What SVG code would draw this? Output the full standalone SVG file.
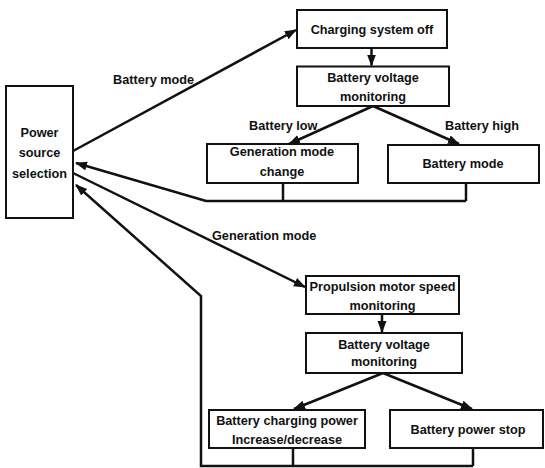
<svg xmlns="http://www.w3.org/2000/svg" width="545" height="468" viewBox="0 0 545 468">
  <style>
    .box { fill: #ffffff; stroke: #111111; stroke-width: 2; }
    .t { font-family: "Liberation Sans", Arial, sans-serif; font-size: 12.7px; font-weight: bold; fill: #111111; text-anchor: middle; }
    .lbl { font-family: "Liberation Sans", Arial, sans-serif; font-size: 12.7px; font-weight: bold; fill: #111111; }
    .c { fill: none; stroke: #111111; stroke-width: 2.5; stroke-linejoin: miter; }
    .arr { marker-end: url(#ah); }
  </style>
  <defs>
    <marker id="ah" markerUnits="userSpaceOnUse" markerWidth="13" markerHeight="10" refX="11" refY="4.5" orient="auto">
      <path d="M0,0 L12,4.5 L0,9 Z" fill="#111111"/>
    </marker>
  </defs>
  <rect width="545" height="468" fill="#ffffff"/>

  <g id="connectors">
    <line class="c arr" x1="73" y1="151" x2="296" y2="30"/>
    <line class="c arr" x1="371.5" y1="48" x2="371.5" y2="65.5"/>
    <line class="c arr" x1="373" y1="106" x2="289" y2="144"/>
    <line class="c arr" x1="373" y1="106" x2="459" y2="144"/>
    <polyline class="c" points="283,183 283,201"/>
    <polyline class="c" points="466,183 466,201"/>
    <polyline class="c arr" points="466,201 206,201 76,163"/>
    <line class="c arr" x1="73" y1="173" x2="305" y2="287"/>
    <line class="c arr" x1="382" y1="314" x2="382" y2="332"/>
    <line class="c arr" x1="383" y1="373" x2="294" y2="409"/>
    <line class="c arr" x1="383" y1="373" x2="472" y2="409"/>
    <polyline class="c" points="293,448 293,466"/>
    <polyline class="c" points="473,448 473,466"/>
    <polyline class="c arr" points="473,466 201,466 201,296 76,185"/>
  </g>

  <g id="labels">
    <text class="lbl" x="113" y="83.5">Battery mode</text>
    <text class="lbl" x="249" y="129.5">Battery low</text>
    <text class="lbl" x="445" y="129.5">Battery high</text>
    <text class="lbl" x="212" y="239.5">Generation mode</text>
  </g>

  <g id="power-source-selection">
    <rect class="box" x="6" y="86" width="67" height="132"/>
    <text class="t" x="39.5" y="136.5">Power</text>
    <text class="t" x="39.5" y="157">source</text>
    <text class="t" x="39.5" y="177.5">selection</text>
  </g>

  <g id="charging-system-off">
    <rect class="box" x="297" y="10" width="150" height="38"/>
    <text class="t" x="372" y="33.5">Charging system off</text>
  </g>

  <g id="battery-voltage-monitoring-1">
    <rect class="box" x="297" y="66.5" width="152" height="39.5"/>
    <text class="t" x="373" y="81.5">Battery voltage</text>
    <text class="t" x="373" y="100.5">monitoring</text>
  </g>

  <g id="generation-mode-change">
    <rect class="box" x="207" y="144" width="151" height="39"/>
    <text class="t" x="282" y="156">Generation mode</text>
    <text class="t" x="282" y="176">change</text>
  </g>

  <g id="battery-mode">
    <rect class="box" x="388" y="145" width="151" height="38"/>
    <text class="t" x="463" y="168">Battery mode</text>
  </g>

  <g id="propulsion-motor-speed-monitoring">
    <rect class="box" x="306" y="276" width="153" height="38"/>
    <text class="t" x="382.5" y="291">Propulsion motor speed</text>
    <text class="t" x="382.5" y="310">monitoring</text>
  </g>

  <g id="battery-voltage-monitoring-2">
    <rect class="box" x="306" y="333" width="156" height="40"/>
    <text class="t" x="384" y="348.5">Battery voltage</text>
    <text class="t" x="384" y="366">monitoring</text>
  </g>

  <g id="battery-charging-power">
    <rect class="box" x="209" y="410" width="156" height="38"/>
    <text class="t" x="287" y="424.5">Battery charging power</text>
    <text class="t" x="287" y="443.5">Increase/decrease</text>
  </g>

  <g id="battery-power-stop">
    <rect class="box" x="390" y="410" width="153" height="38"/>
    <text class="t" x="468" y="433.5">Battery power stop</text>
  </g>
</svg>
